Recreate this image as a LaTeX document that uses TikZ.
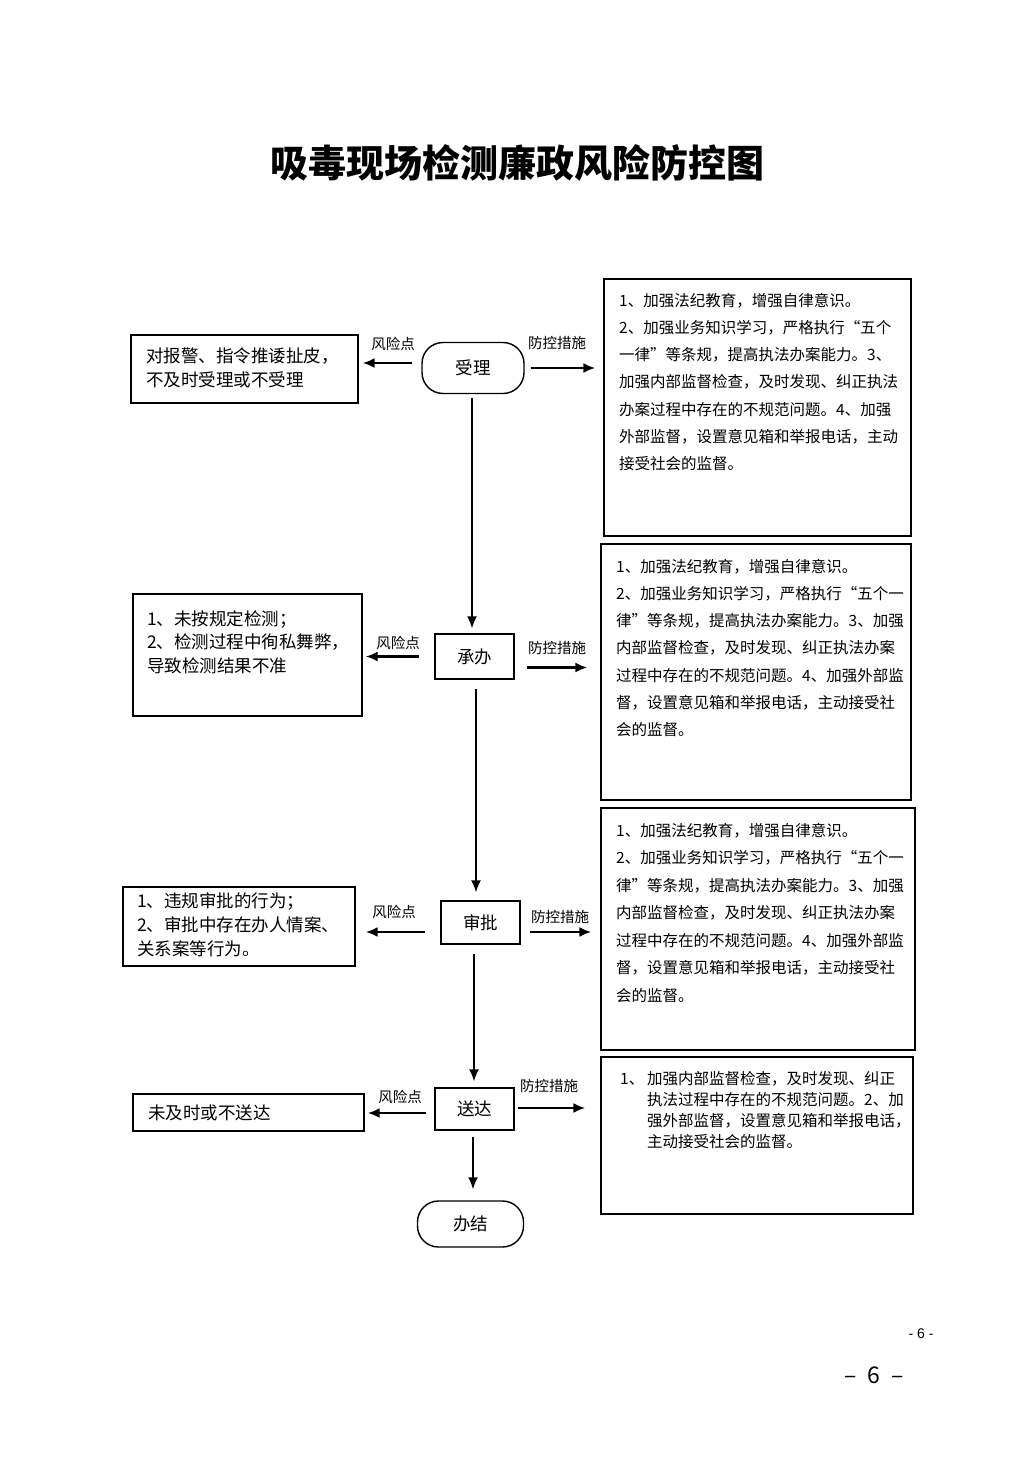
\documentclass[tikz,border=0pt]{standalone}
\usepackage{fontspec}
\setmainfont{Noto Sans CJK SC}
\newfontfamily\cjk{Noto Sans CJK SC}
\newfontfamily\latinsans{Liberation Sans}
\usetikzlibrary{arrows.meta}
\tikzset{
  box/.style={draw, line width=1.4pt, inner sep=0pt},
  stepnode/.style={draw, line width=1.4pt, inner sep=0pt, minimum width=79pt, minimum height=44pt, font=\cjk\fontsize{17.5}{20}\selectfont},
  term/.style={draw, line width=1.4pt, inner sep=0pt, rounded corners=21pt, font=\cjk\fontsize{17.5}{20}\selectfont},
  harr/.style={line width=2.3pt, -{Latex[length=12pt,width=10pt]}},
  varr/.style={line width=1.6pt, -{Latex[length=12pt,width=10pt]}},
  lbl/.style={font=\cjk\fontsize{14.5}{16}\selectfont, inner sep=0pt},
  risktext/.style={font=\cjk\fontsize{17.5}{24}\selectfont, align=left, inner sep=0pt, anchor=north west},
  meastext/.style={font=\cjk\fontsize{15.5}{27.2}\selectfont, align=left, inner sep=0pt, anchor=north west},
}
\begin{document}
\begin{tikzpicture}[x=1pt,y=-1pt]
\useasboundingbox (0,0) rectangle (1033,1461);
\fill[white] (0,0) rectangle (1033,1461);

% title
\node[font=\cjk\bfseries\fontsize{38}{40}\selectfont, inner sep=0pt] (title) at (517,163) {吸毒现场检测廉政风险防控图};

% ---------- row 1 ----------
\node[term, minimum width=102pt, minimum height=51pt] (s1) at (473,368) {受理};
\node[box, minimum width=227pt, minimum height=68pt] (lb1) at (244.5,369) {};
\node[risktext] (lt1) at (146,348) {对报警、指令推诿扯皮，\\不及时受理或不受理};
\node[box, minimum width=307pt, minimum height=257pt] (rb1) at (757.5,407.5) {};
\node[meastext] (rt1) at (619,293) {1、加强法纪教育，增强自律意识。\\2、加强业务知识学习，严格执行“五个\\一律”等条规，提高执法办案能力。3、\\加强内部监督检查，及时发现、纠正执法\\办案过程中存在的不规范问题。4、加强\\外部监督，设置意见箱和举报电话，主动\\接受社会的监督。};
\draw[harr, shorten <=9pt, shorten >=4pt] ([yshift=5pt]s1.west) -- ([yshift=5pt]s1.west -| lb1.east);
\node[lbl] (r1) at (393,344) {风险点};
\draw[harr, shorten <=6pt, shorten >=8pt] (s1.east) -- (s1.east -| rb1.west);
\node[lbl] (m1) at (557,343) {防控措施};

% ---------- row 2 ----------
\node[stepnode, minimum height=45pt] (s2) at (474.5,656.5) {承办};
\node[box, minimum width=229pt, minimum height=122pt] (lb2) at (247.5,655) {};
\node[risktext, font=\cjk\fontsize{17.5}{23.5}\selectfont] (lt2) at (147,610) {1、未按规定检测；\\2、检测过程中徇私舞弊，\\导致检测结果不准};
\node[box, minimum width=310pt, minimum height=256pt] (rb2) at (756,672) {};
\node[meastext] (rt2) at (616,559) {1、加强法纪教育，增强自律意识。\\2、加强业务知识学习，严格执行“五个一\\律”等条规，提高执法办案能力。3、加强\\内部监督检查，及时发现、纠正执法办案\\过程中存在的不规范问题。4、加强外部监\\督，设置意见箱和举报电话，主动接受社\\会的监督。};
\draw[harr, shorten <=15pt, shorten >=3pt] (s2.west) -- (s2.west -| lb2.east);
\node[lbl] (r2) at (398,643) {风险点};
\draw[harr, shorten <=12pt, shorten >=13pt] ([yshift=-11pt]s2.east) -- ([yshift=-11pt]s2.east -| rb2.west);
\node[lbl] (m2) at (557,648) {防控措施};

% ---------- row 3 ----------
\node[stepnode, minimum height=43pt] (s3) at (480.5,922.5) {审批};
\node[box, minimum width=232pt, minimum height=79pt] (lb3) at (239,926.5) {};
\node[risktext] (lt3) at (137,892) {1、违规审批的行为；\\2、审批中存在办人情案、\\关系案等行为。};
\node[box, minimum width=314pt, minimum height=242pt] (rb3) at (758,929) {};
\node[meastext, font=\cjk\fontsize{15.5}{27.5}\selectfont] (rt3) at (616,823) {1、加强法纪教育，增强自律意识。\\2、加强业务知识学习，严格执行“五个一\\律”等条规，提高执法办案能力。3、加强\\内部监督检查，及时发现、纠正执法办案\\过程中存在的不规范问题。4、加强外部监\\督，设置意见箱和举报电话，主动接受社\\会的监督。};
\draw[harr, shorten <=15pt, shorten >=10pt] ([yshift=-9.5pt]s3.west) -- ([yshift=-9.5pt]s3.west -| lb3.east);
\node[lbl] (r3) at (394,912) {风险点};
\draw[harr, shorten <=9pt, shorten >=9pt] ([yshift=-9.5pt]s3.east) -- ([yshift=-9.5pt]s3.east -| rb3.west);
\node[lbl] (m3) at (560,917) {防控措施};

% ---------- row 4 ----------
\node[stepnode, minimum height=42pt] (s4) at (474.5,1109) {送达};
\node[box, minimum width=231pt, minimum height=37pt] (lb4) at (248.5,1112.5) {};
\node[risktext] (lt4) at (148,1105) {未及时或不送达};
\node[box, minimum width=312pt, minimum height=157pt] (rb4) at (757,1135.5) {};
\node[meastext, font=\cjk\fontsize{15.5}{21}\selectfont] (rt4) at (620,1071) {\makebox[27pt][l]{1、}加强内部监督检查，及时发现、纠正\\\hspace*{27pt}执法过程中存在的不规范问题。2、加\\\hspace*{27pt}强外部监督，设置意见箱和举报电话，\\\hspace*{27pt}主动接受社会的监督。};
\draw[harr, shorten <=8pt, shorten >=3pt] ([yshift=-4pt]s4.west) -- ([yshift=-4pt]s4.west -| lb4.east);
\node[lbl] (r4) at (400,1097) {风险点};
\draw[harr, shorten <=3pt, shorten >=15pt] ([yshift=1pt]s4.east) -- ([yshift=1pt]s4.east -| rb4.west);
\node[lbl] (m4) at (549,1086) {防控措施};

% end
\node[term, minimum width=106pt, minimum height=46pt] (end) at (470.5,1224) {办结};

% vertical flow
\draw[varr, shorten <=4pt, shorten >=5pt] ([xshift=-1pt]s1.south) -- ([xshift=-1pt]s1.south |- s2.north);
\draw[varr, shorten <=9pt, shorten >=8pt] ([xshift=1.5pt]s2.south) -- ([xshift=1.5pt]s2.south |- s3.north);
\draw[varr, shorten <=9pt, shorten >=6pt] ([xshift=-6.5pt]s3.south) -- ([xshift=-6.5pt]s3.south |- s4.north);
\draw[varr, shorten <=6pt, shorten >=11pt] ([xshift=-1.5pt]s4.south) -- ([xshift=-1.5pt]s4.south |- end.north);

% page numbers
\node[font=\latinsans\fontsize{14}{16}\selectfont, inner sep=0pt] (pn1) at (921,1334) {- 6 -};
\node[font=\cjk\fontsize{23}{26}\selectfont, inner sep=0pt] (pn2) at (874,1375) {–\hspace{11pt}6\hspace{11pt}–};
\end{tikzpicture}
\end{document}
